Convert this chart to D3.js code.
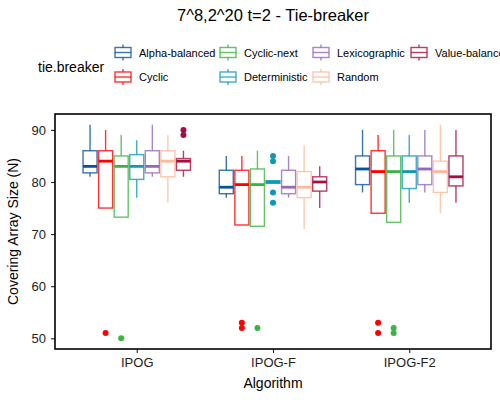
<!DOCTYPE html>
<html>
<head>
<meta charset="utf-8">
<script src="https://cdn.jsdelivr.net/npm/d3@7"></script>
<style>
  body { margin: 0; background: #fff; }
  svg { font-family: 'Liberation Sans', Arial, sans-serif; }
</style>
</head>
<body>
<div id="chart"></div>
<script>
// data
var algorithms = ['IPOG', 'IPOG-F', 'IPOG-F2']
var tieBreakers = ['Alpha-balanced', 'Cyclic', 'Cyclic-next', 'Deterministic', 'Lexicographic', 'Random', 'Value-balanced']
var colors = ['#08519C', '#FF0000', '#3CB440', '#0E98B8', '#9467BD', '#FDB99A', '#A50F3D']
var yTicks = [50, 60, 70, 80, 90]

// [lower whisker, q1, median, q3, upper whisker] per tie-breaker
var ipogStats = [
  [81, 81.75, 83, 86, 91],
  [75, 75, 84, 86, 90],
  [73.25, 73.25, 83, 85, 89],
  [77, 80.5, 83, 85.25, 88],
  [81, 81.75, 83, 86, 91],
  [76, 81, 84, 86, 89],
  [81, 82.25, 84, 84.5, 86]
]
var ipogFStats = [
  [77, 77.75, 79, 82.25, 85],
  [71.75, 71.75, 79.5, 82.25, 85],
  [71.5, 71.5, 79.5, 82.5, 86],
  [79.75, 79.75, 80, 80.25, 80.25],
  [77, 77.75, 79, 82.25, 85],
  [71, 77, 79, 82, 87],
  [75, 78.25, 80, 81, 83]
]
var ipogF2Stats = [
  [78, 79.5, 82.5, 85, 90],
  [74, 74, 82, 86, 89],
  [72.25, 72.25, 82, 85, 90],
  [76, 78.75, 82, 85, 89],
  [78, 79.5, 82.5, 85, 90],
  [74, 78, 82, 84, 91],
  [76, 79.25, 81, 85, 90]
]
var ipogOutliers = [[], [51], [50], [], [], [], [90, 89]]
var ipogFOutliers = [[], [53, 52], [52], [85, 84, 78, 76], [], [], []]
var ipogF2Outliers = [[], [53, 51], [52, 51], [], [], [], []]

var allStats = [ipogStats, ipogFStats, ipogF2Stats]
var allOutliers = [ipogOutliers, ipogFOutliers, ipogF2Outliers]

var margin = { top: 114, right: 9, bottom: 51, left: 55 }
var width = 500 - margin.left - margin.right
var height = 400 - margin.top - margin.bottom

var root = d3
  .select('#chart')
  .append('svg')
  .attr('width', 500)
  .attr('height', 400)

var svg = root
  .append('g')
  .attr('transform', 'translate(' + margin.left + ',' + margin.top + ')')

var xPositionScale = d3
  .scalePoint()
  .domain(algorithms)
  .range([0, width])
  .padding(0.6)

var yPositionScale = d3
  .scaleLinear()
  .domain([47.95, 93.05])
  .range([height, 0])

var groupWidth = xPositionScale.step() * 0.8
var dodgeScale = d3
  .scaleBand()
  .domain(tieBreakers)
  .range([-groupWidth / 2, groupWidth / 2])
  .paddingInner(0.1)
  .paddingOuter(0.05)

var colorScale = d3.scaleOrdinal().domain(tieBreakers).range(colors)

var boxes = []
algorithms.forEach((alg, a) => {
  tieBreakers.forEach((tb, t) => {
    var s = allStats[a][t]
    boxes.push({ alg: alg, tb: tb, lo: s[0], q1: s[1], med: s[2], q3: s[3], hi: s[4], out: allOutliers[a][t] })
  })
})

var boxG = svg
  .selectAll('.box')
  .data(boxes)
  .enter()
  .append('g')
  .attr('class', 'box')
  .attr('transform', d => 'translate(' + (xPositionScale(d.alg) + dodgeScale(d.tb)) + ',0)')

var bw = dodgeScale.bandwidth()

boxG
  .append('line')
  .attr('x1', bw / 2)
  .attr('x2', bw / 2)
  .attr('y1', d => yPositionScale(d.hi))
  .attr('y2', d => yPositionScale(d.q3))
  .attr('stroke', d => colorScale(d.tb))
  .attr('stroke-opacity', 0.8)
  .attr('stroke-width', 1.4)

boxG
  .append('line')
  .attr('x1', bw / 2)
  .attr('x2', bw / 2)
  .attr('y1', d => yPositionScale(d.q1))
  .attr('y2', d => yPositionScale(d.lo))
  .attr('stroke', d => colorScale(d.tb))
  .attr('stroke-opacity', 0.8)
  .attr('stroke-width', 1.4)

boxG
  .append('rect')
  .attr('x', 0)
  .attr('width', bw)
  .attr('y', d => yPositionScale(d.q3))
  .attr('height', d => yPositionScale(d.q1) - yPositionScale(d.q3))
  .attr('fill', 'white')
  .attr('stroke', d => colorScale(d.tb))
  .attr('stroke-opacity', 0.8)
  .attr('stroke-width', 1.4)

boxG
  .append('line')
  .attr('x1', 0)
  .attr('x2', bw)
  .attr('y1', d => yPositionScale(d.med))
  .attr('y2', d => yPositionScale(d.med))
  .attr('stroke', d => colorScale(d.tb))
  .attr('stroke-width', 2.8)

boxG
  .selectAll('circle')
  .data(d => d.out.map(v => ({ v: v, tb: d.tb })))
  .enter()
  .append('circle')
  .attr('cx', bw / 2)
  .attr('cy', d => yPositionScale(d.v))
  .attr('r', 3)
  .attr('fill', d => colorScale(d.tb))

// axes
var yAxis = d3
  .axisLeft(yPositionScale)
  .tickValues(yTicks)
  .tickSize(4)
  .tickPadding(5)
svg
  .append('g')
  .attr('class', 'axis y-axis')
  .call(yAxis)
svg.select('.y-axis .domain').remove()

var xAxis = d3
  .axisBottom(xPositionScale)
  .tickSize(4)
  .tickPadding(5)
svg
  .append('g')
  .attr('class', 'axis x-axis')
  .attr('transform', 'translate(0,' + height + ')')
  .call(xAxis)
svg.select('.x-axis .domain').remove()

svg
  .selectAll('.axis text')
  .attr('font-size', 13)
  .attr('font-family', "'Liberation Sans', Arial, sans-serif")
  .attr('fill', '#222')
svg.selectAll('.axis line').attr('stroke', '#222').attr('stroke-width', 1.1)

// panel border
svg
  .append('rect')
  .attr('width', width)
  .attr('height', height)
  .attr('fill', 'none')
  .attr('stroke', 'black')
  .attr('stroke-width', 1.6)

// titles
root
  .append('text')
  .attr('x', margin.left + width / 2)
  .attr('y', 21)
  .attr('text-anchor', 'middle')
  .attr('font-size', 16.5)
  .text('7^8,2^20 t=2 - Tie-breaker')

root
  .append('text')
  .attr('x', margin.left + width / 2)
  .attr('y', 388)
  .attr('text-anchor', 'middle')
  .attr('font-size', 14)
  .text('Algorithm')

root
  .append('text')
  .attr('transform', 'translate(18,' + (margin.top + height / 2) + ') rotate(-90)')
  .attr('text-anchor', 'middle')
  .attr('font-size', 14)
  .text('Covering Array Size (N)')

// legend
root
  .append('text')
  .attr('x', 38)
  .attr('y', 72)
  .attr('font-size', 14)
  .text('tie.breaker')

var legendCols = [114, 219, 312, 410]
var legendRows = [52.5, 77]

var legend = root
  .selectAll('.legend-item')
  .data(tieBreakers)
  .enter()
  .append('g')
  .attr('class', 'legend-item')
  .attr('transform', (d, i) => 'translate(' + legendCols[Math.floor(i / 2)] + ',' + legendRows[i % 2] + ')')

legend
  .append('line')
  .attr('x1', 9)
  .attr('x2', 9)
  .attr('y1', -8)
  .attr('y2', 8)
  .attr('stroke', d => colorScale(d))
  .attr('stroke-opacity', 0.8)
  .attr('stroke-width', 1.4)

legend
  .append('rect')
  .attr('x', 1)
  .attr('y', -5)
  .attr('width', 16)
  .attr('height', 10)
  .attr('fill', 'white')
  .attr('stroke', d => colorScale(d))
  .attr('stroke-opacity', 0.8)
  .attr('stroke-width', 1.4)

legend
  .append('line')
  .attr('x1', 1)
  .attr('x2', 17)
  .attr('y1', 0)
  .attr('y2', 0)
  .attr('stroke', d => colorScale(d))
  .attr('stroke-opacity', 0.8)
  .attr('stroke-width', 1.4)

legend
  .append('text')
  .attr('x', 25)
  .attr('y', 4)
  .attr('font-size', 11)
  .text(d => d)
</script>
</body>
</html>
